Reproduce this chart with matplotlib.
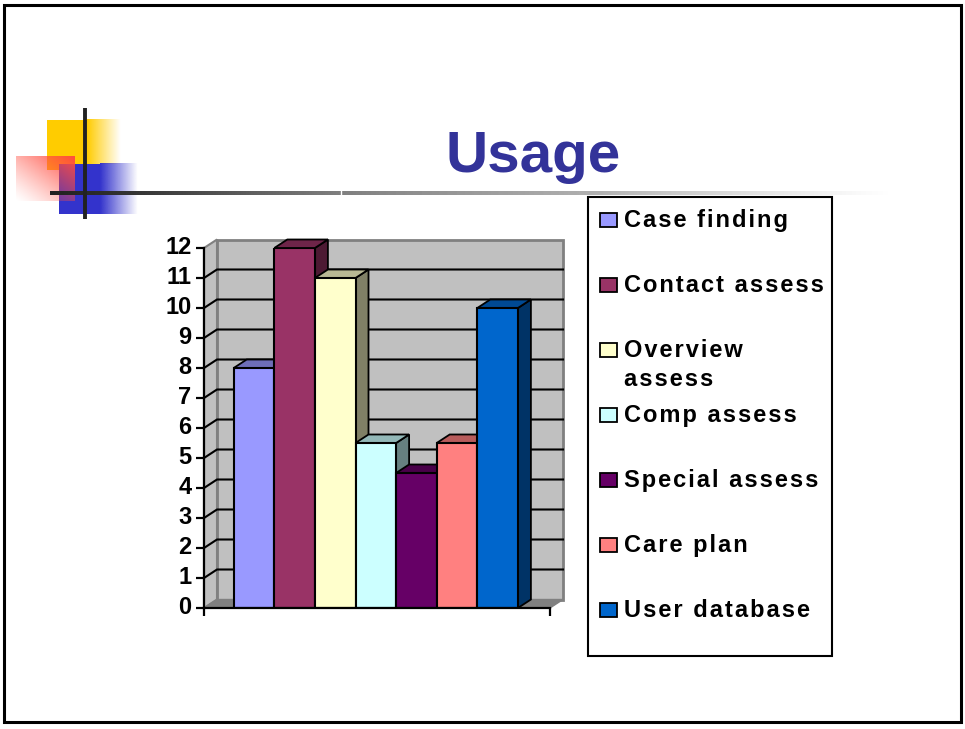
import numpy as np
import matplotlib
matplotlib.use("Agg")
import matplotlib.pyplot as plt
from matplotlib.patches import Polygon, Rectangle
from matplotlib.transforms import ScaledTranslation

plt.rcParams['font.family'] = ['Liberation Sans', 'DejaVu Sans']

categories = ["Case finding", "Contact assess", "Overview\nassess", "Comp assess",
              "Special assess", "Care plan", "User database"]
values = [8, 12, 11, 5.5, 4.5, 5.5, 10]
colors = ["#9999FF", "#993366", "#FFFFCC", "#CCFFFF", "#660066", "#FF8080", "#0066CC"]
y_ticks = list(range(0, 13))

W, H = 965, 729
fig = plt.figure(figsize=(W / 100, H / 100), dpi=100)

# slide layer, in pixels
bg = fig.add_axes([0, 0, 1, 1], zorder=0)
bg.set_xlim(0, W)
bg.set_ylim(H, 0)
bg.axis("off")


def shade(color, k):
    r, g, b = matplotlib.colors.to_rgb(color)
    return (r * k, g * k, b * k)


def spaced(s):
    # the slide's text has wide letter spacing
    return "\n".join("\u200a".join(line) for line in s.split("\n"))


def gradient(x0, x1, y0, y1, rgb, alpha):
    img = np.zeros(alpha.shape + (4,))
    img[..., :3] = rgb
    img[..., 3] = alpha
    bg.imshow(img, extent=(x0, x1, y1, y0), aspect="auto", interpolation="bilinear", zorder=2)


bg.add_patch(Rectangle((4, 5), 957, 717, fc="white", ec="black", lw=2.2, zorder=1))

# logo squares
yellow = (1, 0.8, 0)
blue = (0.2, 0.2, 0.8)
fade = np.linspace(1, 0, 64).reshape(1, -1)
bg.add_patch(Rectangle((47, 120), 40, 50, fc=yellow, ec="none", zorder=2))
gradient(87, 121, 119, 164, yellow, fade)
bg.add_patch(Rectangle((59, 164), 41, 50, fc=blue, ec="none", zorder=2))
gradient(100, 138, 163, 214, blue, fade)
u, v = np.meshgrid(np.linspace(0, 1, 64), np.linspace(0, 1, 64))
gradient(16, 75, 156, 201, (1, 0.3, 0.25), np.clip((u + 1 - v) / 2, 0, 1) ** 1.2)

# rule under the title
xs = np.linspace(50, 890, 400)
grey = np.interp(xs, [50, 130, 340, 890], [0.13, 0.2, 0.5, 0.75])
alpha = np.interp(xs, [50, 340, 600, 890], [1, 1, 0.8, 0])
rule = np.ones((1, 400, 4))
rule[..., 0] = rule[..., 1] = rule[..., 2] = grey
rule[..., 3] = alpha
bg.imshow(rule, extent=(50, 890, 195, 191), aspect="auto", zorder=3)
bg.plot([341, 341], [191, 195], color="white", lw=1, zorder=3)
bg.plot([85, 85], [108, 219], color="#222222", lw=2.8, solid_capstyle="butt", zorder=4)
bg.set_xlim(0, W)
bg.set_ylim(H, 0)

bg.text(533, 157, "Usage", color="#333399", fontsize=42, fontweight="bold",
        ha="center", va="center", zorder=5)

# legend box
bg.add_patch(Rectangle((588, 197), 244, 459, fc="white", ec="black", lw=1.5, zorder=2))
for i, (name, c) in enumerate(zip(categories, colors)):
    yc = 220 + 65 * i
    bg.add_patch(Rectangle((600, yc - 7), 17, 14, fc=c, ec="black", lw=1.3, zorder=3))
    bg.text(624, yc - 11, spaced(name), fontsize=17, fontweight="bold", ha="left", va="top",
            linespacing=1.35, zorder=5)

# chart, front plane of the 3d box
px_l, px_r, px_top, px_bot = 204, 550, 248, 608
ax = fig.add_axes([px_l / W, 1 - px_bot / H, (px_r - px_l) / W, (px_bot - px_top) / H], zorder=1)
ax.patch.set_visible(False)
bar_px = 40.6
xl = (px_l - 254) / bar_px
xr = (px_r - 254) / bar_px
ax.set_xlim(xl, xr)
ax.set_ylim(0, 12)
dx = 13 / bar_px
dy = 8.5 / 30


def face(points, fc, ec="black", lw=1.3, z=2):
    ax.add_patch(Polygon(points, closed=True, fc=fc, ec=ec, lw=lw, zorder=z, clip_on=False,
                         joinstyle="miter"))


# walls and floor
face([(xl + dx, dy), (xr + dx, dy), (xr + dx, 12 + dy), (xl + dx, 12 + dy)], "#C0C0C0", "#808080", 2, 1)
face([(xl, 0), (xl + dx, dy), (xl + dx, 12 + dy), (xl, 12)], "#C0C0C0", "#808080", 1.5, 1)
face([(xl, 0), (xr, 0), (xr + dx, dy), (xl + dx, dy)], "#808080", "#808080", 1, 1)
for t in y_ticks[1:-1]:
    ax.plot([xl, xl + dx, xr + dx], [t, t + dy, t + dy], color="black", lw=1.5,
            zorder=1.5, clip_on=False)

width = 1.0
bars = ax.bar(range(len(values)), values, width=width, color=colors, edgecolor="black",
              linewidth=1.5, zorder=3)
for i, (b, val, c) in enumerate(zip(bars, values, colors)):
    x0, x1 = b.get_x(), b.get_x() + b.get_width()
    z = 2.1 + i * 0.01
    face([(x1, 0), (x1 + dx, dy), (x1 + dx, val + dy), (x1, val)], shade(c, 0.5), z=z)
    face([(x0, val), (x1, val), (x1 + dx, val + dy), (x0 + dx, val + dy)], shade(c, 0.72), z=z)

for s in ["top", "right"]:
    ax.spines[s].set_visible(False)
for s in ["left", "bottom"]:
    ax.spines[s].set_linewidth(1.6)
    ax.spines[s].set_zorder(4)
ax.set_yticks(y_ticks)
ax.set_yticklabels([str(t) for t in y_ticks], fontsize=17, fontweight="bold")
ax.tick_params(axis="y", length=6, width=1.6, pad=3)
# labels sit a touch above their ticks
for lab in ax.get_yticklabels():
    lab.set_transform(lab.get_transform() + ScaledTranslation(0, 2 / 72, fig.dpi_scale_trans))
ax.set_xticks([xl, xr])
ax.set_xticklabels([])
ax.tick_params(axis="x", length=6, width=1.6)

fig.savefig("out.png", dpi=100)
